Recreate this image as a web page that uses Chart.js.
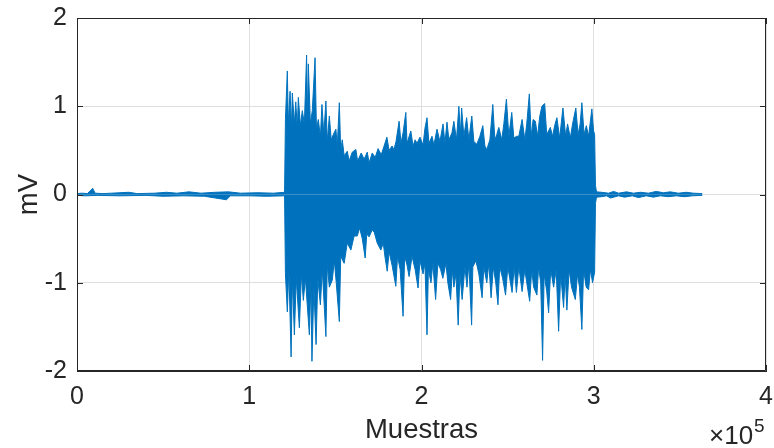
<!DOCTYPE html>
<html>
<head>
<meta charset="utf-8">
<script src="https://cdn.jsdelivr.net/npm/chart.js@4.4.1/dist/chart.umd.min.js"></script>
<style>
  html, body { margin: 0; padding: 0; background: #fff; }
  #grafico { display: block; }
</style>
</head>
<body>
<canvas id="grafico" width="774" height="448"></canvas>
<script>
// envolvente superior de la senal (muestras, mV)
const muestrasSup = [
  0, 3000, 6000, 9100, 10500, 15000, 20000, 30000, 35000, 45000, 52000, 58000, 65000, 72000, 80000, 88000, 95000, 105000, 114000, 120500,
  121000, 122100, 122700, 123700, 124500, 125000, 126200, 127000, 127900, 128500, 129700, 130800, 132000, 133300, 133800, 134300,
  135500, 136600, 138200, 139000, 140100, 141300, 142200, 143300, 144500, 145300, 146500, 147600, 148800, 150300, 151100, 152300,
  153100, 154000, 155100, 156900, 158000, 159800, 161900, 162900, 165000, 166700, 168500, 169600, 171400, 173100, 174800, 176600,
  178300, 179900, 181200, 182900, 184000, 185200, 187000, 188100, 189300, 190900, 191600, 193800, 195100, 196300, 197400, 199100,
  200900, 202000, 203200, 204300, 206100, 207200, 209000, 210700, 212500, 213600, 214800, 215900, 217700, 218800, 220300, 221700,
  222600, 223300, 224600, 226200, 227500, 229200, 230400, 232100, 233900, 235600, 236800, 237900, 239700, 241400, 242600, 243700,
  244900, 246600, 247800, 249300, 250700, 252400, 253600, 255300, 256500, 258400, 260000, 261100, 262600, 263700, 264800, 266100,
  267400, 268600, 269900, 271500, 272700, 274800, 276100, 277300, 278600, 280200, 282100, 283700, 284800, 286400, 287700, 289600,
  290900, 292100, 293100, 294400, 295700, 297000, 298900, 299900, 300500, 301000, 301600,
  304500, 308600, 311500, 314400, 319000, 323000, 327100, 331700, 336300, 340400, 344400, 349100, 353700, 357800, 363000
];
const amplitudSup = [
  0.01, 0.015, 0.01, 0.07, 0.015, 0.01, 0.015, 0.025, 0.01, 0.015, 0.025, 0.015, 0.03, 0.015, 0.025, 0.03, 0.015, 0.02, 0.015, 0.025,
  0.85, 1.40, 0.80, 1.17, 0.75, 1.15, 0.80, 1.05, 0.75, 1.10, 0.78, 0.95, 0.80, 1.58, 0.85, 1.48,
  0.80, 0.95, 1.55, 0.75, 0.85, 0.65, 1.02, 0.68, 1.06, 0.60, 0.89, 0.62, 0.68, 0.74, 0.55, 1.04,
  0.50, 0.62, 0.44, 0.49, 0.38, 0.48, 0.51, 0.38, 0.47, 0.40, 0.48, 0.36, 0.47, 0.42, 0.52, 0.45,
  0.55, 0.65, 0.50, 0.55, 0.51, 0.60, 0.83, 0.58, 0.70, 0.93, 0.58, 0.72, 0.55, 0.62, 0.58, 0.65,
  0.56, 0.75, 0.87, 0.58, 0.66, 0.56, 0.74, 0.60, 0.80, 0.58, 0.82, 0.62, 0.70, 0.83, 0.62, 1.00,
  0.68, 0.98, 0.66, 0.87, 0.62, 0.89, 0.60, 0.57, 0.66, 0.78, 0.55, 0.51, 0.62, 1.02, 0.62, 0.68,
  0.76, 0.62, 0.80, 1.08, 0.66, 0.93, 0.64, 0.66, 0.66, 0.85, 0.62, 0.80, 1.14, 0.66, 0.85, 0.83,
  0.66, 0.88, 1.00, 1.03, 0.68, 0.76, 0.66, 0.78, 0.87, 0.64, 0.98, 0.66, 0.80, 0.64, 0.80, 0.98,
  0.68, 0.80, 1.04, 0.68, 0.78, 0.66, 0.97, 0.72, 0.68, 0.10, 0.03,
  0.025, 0.015, 0.035, 0.015, 0.03, 0.015, 0.025, 0.015, 0.035, 0.02, 0.03, 0.015, 0.025, 0.015, 0.01
];

// envolvente inferior
const muestrasInf = [
  0, 5000, 12000, 25000, 40000, 50000, 62000, 74000, 86800, 89000, 100000, 110000, 120500,
  121000, 122100, 123000, 124300, 125000, 126200, 127300, 129100, 130300, 131400, 132600, 134900, 135800, 136400, 137500, 138800,
  139800, 141300, 142400, 144500, 145300, 146500, 148200, 149400, 150500, 152300, 153100, 155100, 156900, 159000, 160900, 162700,
  164100, 165600, 167300, 168200, 169600, 171400, 172600, 174300, 176400, 177800, 178900, 180100, 181200, 182900, 185100, 186100,
  187600, 189300, 190200, 191600, 192800, 194500, 196300, 198000, 199100, 200900, 202000, 203200, 204000, 205500, 206600, 208200,
  209500, 211100, 212400, 214200, 215300, 216900, 217900, 218800, 220000, 221300, 222300, 223600, 225200, 226400, 227500, 229100,
  229800, 231600, 233300, 235200, 236200, 237900, 239100, 240400, 241700, 243100, 244400, 245400, 247100, 248800, 250100, 251200,
  252600, 253800, 255100, 256500, 258400, 260000, 261100, 262800, 264000, 265100, 267000, 268000, 269200, 270300, 271200, 272700,
  273800, 275000, 276700, 278200, 279600, 280800, 282500, 283400, 284400, 285700, 287100, 289300, 290600, 291700, 293100, 294100,
  295600, 297000, 298100, 299300, 300500, 301000, 301600,
  304500, 307500, 309700, 314400, 317900, 322400, 325900, 330500, 334600, 338700, 343300, 347900, 352600, 357200, 363000
];
const amplitudInf = [
  -0.01, -0.015, -0.01, -0.015, -0.01, -0.02, -0.015, -0.02, -0.06, -0.015, -0.015, -0.02, -0.015,
  -0.90, -1.33, -0.85, -1.84, -0.95, -1.59, -0.95, -1.51, -0.90, -1.20, -0.95, -1.59, -1.00, -1.89, -1.05, -1.70,
  -0.95, -1.25, -0.85, -1.61, -0.80, -1.05, -0.97, -0.75, -1.00, -1.44, -0.70, -0.78, -0.55, -0.63, -0.47, -0.47,
  -0.38, -0.50, -0.72, -0.45, -0.48, -0.40, -0.43, -0.55, -0.63, -0.55, -0.72, -0.87, -0.65, -0.80, -1.04, -0.70,
  -0.85, -1.38, -0.70, -0.80, -0.93, -0.70, -0.85, -1.06, -0.75, -0.90, -0.78, -1.59, -0.85, -1.00, -0.78, -1.19,
  -0.78, -0.85, -0.95, -0.78, -1.00, -1.19, -0.85, -1.05, -0.90, -1.48, -0.90, -1.19, -0.82, -1.05, -0.78, -1.48,
  -0.82, -0.75, -0.90, -1.17, -0.82, -1.00, -0.78, -1.17, -0.82, -1.00, -1.25, -0.82, -0.95, -1.14, -0.82, -0.95,
  -1.11, -0.82, -1.11, -0.82, -1.10, -0.85, -1.00, -1.21, -0.85, -1.05, -1.14, -0.82, -1.00, -1.88, -0.90, -1.10,
  -1.34, -0.85, -1.05, -0.85, -1.55, -0.90, -1.28, -0.90, -1.31, -0.85, -1.05, -1.19, -0.90, -1.05, -1.53, -0.85,
  -1.05, -1.08, -0.85, -1.00, -0.88, -0.10, -0.03,
  -0.025, -0.015, -0.04, -0.015, -0.03, -0.015, -0.035, -0.015, -0.03, -0.015, -0.025, -0.015, -0.025, -0.015, -0.01
];

const ticksX = [0, 100000, 200000, 300000, 400000];
const ticksY = [-2, -1, 0, 1, 2];

const azul = '#0072BD';
const gris = '#262626';
const fuente = "'Liberation Sans', Arial, Helvetica, sans-serif";

const puntos = (xs, ys) => xs.map((x, i) => ({x: x, y: ys[i]}));

// caja, marcas interiores y el factor x10^5
const cajaMatlab = {
  id: 'cajaMatlab',
  afterDraw(chart) {
    const {ctx, chartArea: a, scales} = chart;
    ctx.save();
    ctx.strokeStyle = gris;
    ctx.lineWidth = 1;
    ctx.beginPath();
    ctx.rect(a.left + 0.5, a.top + 0.5, a.right - a.left - 1, a.bottom - a.top - 1);
    ticksX.forEach(v => {
      const px = Math.round(scales.x.getPixelForValue(v)) + 0.5;
      ctx.moveTo(px, a.bottom); ctx.lineTo(px, a.bottom - 6);
      ctx.moveTo(px, a.top); ctx.lineTo(px, a.top + 6);
    });
    ticksY.forEach(v => {
      const py = Math.round(scales.y.getPixelForValue(v)) + 0.5;
      ctx.moveTo(a.left, py); ctx.lineTo(a.left + 6, py);
      ctx.moveTo(a.right, py); ctx.lineTo(a.right - 6, py);
    });
    ctx.stroke();

    ctx.fillStyle = gris;
    ctx.textBaseline = 'alphabetic';
    ctx.textAlign = 'left';
    ctx.font = '26px ' + fuente;
    ctx.fillText('\u00d710', 709, 444);
    const w = ctx.measureText('\u00d710').width;
    ctx.font = '19px ' + fuente;
    ctx.fillText('5', 709 + w + 1, 432);
    ctx.restore();
  }
};

new Chart(document.getElementById('grafico'), {
  type: 'line',
  data: {
    datasets: [
      {data: puntos(muestrasSup, amplitudSup), fill: 'origin'},
      {data: puntos(muestrasInf, amplitudInf), fill: 'origin'}
    ]
  },
  options: {
    responsive: false,
    animation: false,
    devicePixelRatio: 1,
    layout: {padding: {top: 18, right: 8, left: 0, bottom: 0}},
    elements: {
      line: {borderColor: azul, backgroundColor: azul, borderWidth: 1, tension: 0},
      point: {radius: 0}
    },
    plugins: {legend: {display: false}, tooltip: {enabled: false}},
    scales: {
      x: {
        type: 'linear',
        min: 0,
        max: 400000,
        afterFit: s => { s.height = 77; },
        afterBuildTicks: s => { s.ticks = ticksX.map(v => ({value: v})); },
        ticks: {
          callback: v => String(v / 100000),
          font: {family: fuente, size: 25},
          color: gris,
          padding: 0,
          maxRotation: 0
        },
        grid: {color: '#dfdfdf', drawTicks: true, tickLength: 11, tickColor: 'rgba(0,0,0,0)'},
        border: {color: gris},
        title: {display: true, text: 'Muestras', color: gris, font: {family: fuente, size: 27.5}, padding: {top: 0, bottom: 1}}
      },
      y: {
        min: -2,
        max: 2,
        afterFit: s => { s.width = 77; },
        afterBuildTicks: s => { s.ticks = ticksY.map(v => ({value: v})); },
        ticks: {
          callback: v => String(v),
          font: {family: fuente, size: 25},
          color: gris,
          padding: 0
        },
        grid: {color: '#dfdfdf', drawTicks: true, tickLength: 10, tickColor: 'rgba(0,0,0,0)'},
        border: {color: gris},
        title: {display: true, text: 'mV', color: gris, font: {family: fuente, size: 27.5}, padding: {top: 13, bottom: 0}}
      }
    }
  },
  plugins: [cajaMatlab]
});
</script>
</body>
</html>
